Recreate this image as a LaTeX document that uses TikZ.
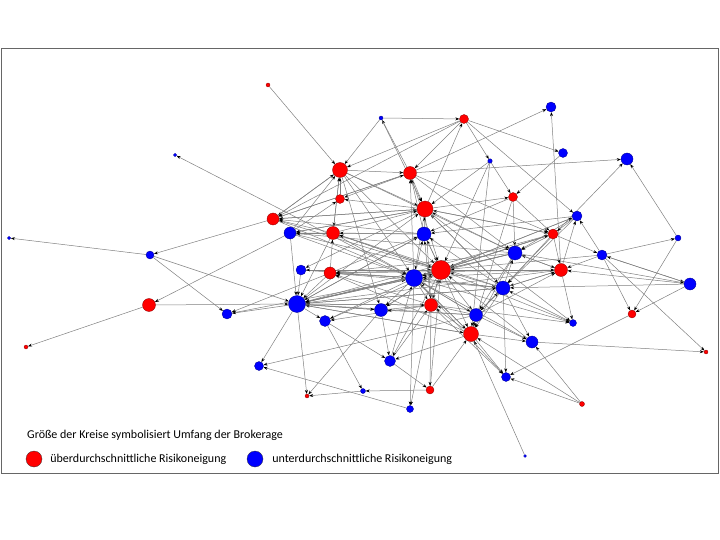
\documentclass[tikz,border=0pt]{standalone}
\usepackage{fontspec}
\setmainfont{Carlito}
\usetikzlibrary{arrows.meta,positioning}
\pgfdeclarelayer{edges}
\pgfsetlayers{edges,main}
\tikzset{
  rnode/.style={circle,inner sep=0pt,minimum size=#1,fill=red,draw=red!55!black,line width=0.3pt},
  bnode/.style={circle,inner sep=0pt,minimum size=#1,fill=blue,draw=blue!55!black,line width=0.3pt},
  link/.style={draw=black!50,line width=0.5pt,-{Stealth[length=4pt,width=3pt,color=black]}},
  legtext/.style={font=\fontsize{12}{14}\selectfont,inner sep=0pt}
}
\begin{document}
\begin{tikzpicture}[x=1pt,y=-1pt]
\useasboundingbox (0,0) rectangle (720,540);
\draw [gray!80!black,line width=0.8pt] (1,48) rectangle (718,473);
% risk-seeking actors
\node [rnode=4pt] (ra) at (268,85) {};
\node [rnode=4pt] (rb) at (26,347) {};
\node [rnode=13pt] (rc) at (149,305) {};
\node [rnode=15pt] (rd) at (340,170) {};
\node [rnode=9pt] (re) at (340,199) {};
\node [rnode=12pt] (rf) at (273,219) {};
\node [rnode=13pt] (rg) at (333,233) {};
\node [rnode=9pt] (rh) at (464,119) {};
\node [rnode=13pt] (ri) at (410,173) {};
\node [rnode=16pt] (rj) at (425,209) {};
\node [rnode=9pt] (rk) at (513,197) {};
\node [rnode=10pt] (rl) at (553,234) {};
\node [rnode=19pt] (rm) at (441,270) {};
\node [rnode=12pt] (rn) at (330,273) {};
\node [rnode=13pt] (ro) at (561,270) {};
\node [rnode=13pt] (rp) at (431,305) {};
\node [rnode=15pt] (rq) at (471,334) {};
\node [rnode=8pt] (rr) at (632,314) {};
\node [rnode=4pt] (rs) at (706,352) {};
\node [rnode=8pt] (rt) at (430,390) {};
\node [rnode=5pt] (ru) at (582,404) {};
\node [rnode=4pt] (rv) at (307,396) {};
% risk-averse actors
\node [bnode=3.5pt] (ba) at (175,155) {};
\node [bnode=3.5pt] (bb) at (9,238) {};
\node [bnode=8pt] (bc) at (150,255) {};
\node [bnode=4pt] (bd) at (381,118) {};
\node [bnode=10pt] (be) at (551,107) {};
\node [bnode=9pt] (bf) at (563,153) {};
\node [bnode=12pt] (bg) at (627,159) {};
\node [bnode=4.5pt] (bh) at (490,161) {};
\node [bnode=12pt] (bi) at (290,233) {};
\node [bnode=14pt] (bj) at (424,234) {};
\node [bnode=10pt] (bk) at (577,216) {};
\node [bnode=6pt] (bl) at (678,238) {};
\node [bnode=14pt] (bm) at (515,253) {};
\node [bnode=10pt] (bn) at (602,255) {};
\node [bnode=10pt] (bo) at (301,270) {};
\node [bnode=17pt] (bp) at (414,278) {};
\node [bnode=12pt] (bq) at (690,284) {};
\node [bnode=14pt] (br) at (503,288) {};
\node [bnode=17pt] (bs) at (297,304) {};
\node [bnode=10pt] (bt) at (227,314) {};
\node [bnode=13pt] (bu) at (381,310) {};
\node [bnode=11pt] (bv) at (325,321) {};
\node [bnode=13pt] (bw) at (476,315) {};
\node [bnode=7pt] (bx) at (573,323) {};
\node [bnode=12pt] (by) at (532,342) {};
\node [bnode=11pt] (bz) at (390,361) {};
\node [bnode=9pt] (b1) at (259,366) {};
\node [bnode=9pt] (b2) at (506,377) {};
\node [bnode=5pt] (b3) at (363,391) {};
\node [bnode=7pt] (b4) at (410,409) {};
\node [bnode=3pt] (b5) at (525,456) {};
% legend
\node [legtext,anchor=west] (title) at (27,435) {Größe der Kreise symbolisiert Umfang der Brokerage};
\node [rnode=16pt,draw=black!80] (kred) at (34,459) {};
\node [legtext,right=8pt of kred] (tred) {überdurchschnittliche Risikoneigung};
\node [bnode=16pt,draw=black!80] (kblue) at (255,459) {};
\node [legtext,right=9pt of kblue] (tblue) {unterdurchschnittliche Risikoneigung};
\begin{pgfonlayer}{edges}
% outer ring
\draw [link] (ra) -- (rd);
\draw [link] (bp) -- (ba);
\draw [link] (bc) -- (bb);
\draw [link] (rf) -- (bc);
\draw [link] (bc) -- (bs);
\draw [link] (bc) -- (bt);
\draw [link] (bi) -- (rc);
\draw [link] (rc) -- (bs);
\draw [link] (rc) -- (rb);
\draw [link] (bd) -- (rh);
\draw [link] (bd) -- (rd);
\draw [link] (ri) -- (bd);
\draw [link] (bd) -- (rj);
\draw [link] (rh) -- (rd);
\draw [link] (rh) -- (rf);
\draw [link] (rh) -- (ri);
\draw [link] (rj) -- (rh);
\draw [link] (rh) -- (bh);
\draw [link] (rh) -- (bk);
\draw [link] (rh) -- (bf);
\draw [link] (ri) -- (be);
\draw [link] (ro) -- (be);
\draw [link] (ri) -- (bg);
\draw [link] (bl) -- (bg);
\draw [link] (bw) -- (bg);
\draw [link] (bf) -- (rk);
\draw [link] (bn) -- (bl);
\draw [link] (bn) -- (bq);
\draw [link] (bn) -- (rr);
\draw [link] (bl) -- (rr);
\draw [link] (bq) -- (rr);
\draw [link] (bq) -- (ro);
\draw [link] (bm) -- (bq);
\draw [link] (bq) -- (br);
\draw [link] (bn) -- (rs);
\draw [link] (by) -- (rs);
\draw [link] (ru) -- (b2);
\draw [link] (ru) -- (by);
\draw [link] (ru) -- (rq);
\draw [link] (rr) -- (b2);
\draw [link] (b5) -- (rq);
\draw [link] (bs) -- (b1);
\draw [link] (bw) -- (b1);
\draw [link] (b4) -- (b1);
\draw [link] (bs) -- (rv);
\draw [link] (b3) -- (rv);
\draw [link] (bu) -- (rv);
\draw [link] (bv) -- (b3);
\draw [link] (rt) -- (b3);
\draw [link] (rp) -- (b4);
\draw [link] (bp) -- (b4);
\draw [link] (bh) -- (rk);
\draw [link] (bh) -- (rj);
\draw [link] (bh) -- (rq);
\draw [link] (bh) -- (rm);
\draw [link] (rj) -- (rk);
\draw [link] (rk) -- (rl);
\draw [link] (rk) -- (bm);
\draw [link] (rk) -- (rq);
\draw [link] (rk) -- (bj);
% core: into rm
\draw [link] (bs) -- (rm);
\draw [link] (rn) -- (rm);
\draw [link] (bo) -- (rm);
\draw [link] (bi) -- (rm);
\draw [link] (rg) -- (rm);
\draw [link] (rf) -- (rm);
\draw [link] (rd) -- (rm);
\draw [link] (ri) -- (rm);
\draw [link] (bj) -- (rm);
\draw [link] (bm) -- (rm);
\draw [link] (br) -- (rm);
\draw [link] (ro) -- (rm);
\draw [link] (rl) -- (rm);
\draw [link] (bk) -- (rm);
\draw [link] (rp) -- (rm);
\draw [link] (bu) -- (rm);
\draw [link] (bv) -- (rm);
\draw [link] (by) -- (rm);
\draw [link] (rt) -- (rm);
\draw [link] (bn) -- (rm);
% into bp
\draw [link] (bs) -- (bp);
\draw [link] (rn) -- (bp);
\draw [link] (bo) -- (bp);
\draw [link] (bi) -- (bp);
\draw [link] (rg) -- (bp);
\draw [link] (rd) -- (bp);
\draw [link] (rj) -- (bp);
\draw [link] (rm) -- (bp);
\draw [link] (br) -- (bp);
\draw [link] (bm) -- (bp);
\draw [link] (ro) -- (bp);
\draw [link] (rl) -- (bp);
\draw [link] (rq) -- (bp);
\draw [link] (bw) -- (bp);
\draw [link] (bz) -- (bp);
\draw [link] (bt) -- (bp);
\draw [link] (rf) -- (bp);
% into rj and bj
\draw [link] (ri) -- (rj);
\draw [link] (rd) -- (rj);
\draw [link] (bj) -- (rj);
\draw [link] (rf) -- (rj);
\draw [link] (rg) -- (rj);
\draw [link] (bi) -- (rj);
\draw [link] (bm) -- (rj);
\draw [link] (br) -- (rj);
\draw [link] (rl) -- (rj);
\draw [link] (bs) -- (rj);
\draw [link] (rm) -- (bj);
\draw [link] (bp) -- (bj);
\draw [link] (bs) -- (bj);
\draw [link] (rn) -- (bj);
\draw [link] (br) -- (bj);
\draw [link] (bk) -- (bj);
\draw [link] (rp) -- (bj);
% into the left cluster
\draw [link] (bp) -- (bs);
\draw [link] (rm) -- (bs);
\draw [link] (rn) -- (bs);
\draw [link] (bo) -- (bs);
\draw [link] (bi) -- (bs);
\draw [link] (rg) -- (bs);
\draw [link] (bj) -- (bs);
\draw [link] (br) -- (bs);
\draw [link] (bm) -- (bs);
\draw [link] (ro) -- (bs);
\draw [link] (bu) -- (bs);
\draw [link] (rp) -- (bs);
\draw [link] (bw) -- (bs);
\draw [link] (rq) -- (bs);
\draw [link] (rl) -- (bs);
\draw [link] (bp) -- (rn);
\draw [link] (br) -- (rn);
\draw [link] (bm) -- (rn);
\draw [link] (rp) -- (rn);
\draw [link] (ro) -- (rn);
\draw [link] (rq) -- (rn);
\draw [link] (rm) -- (bo);
\draw [link] (rj) -- (bo);
\draw [link] (rj) -- (bi);
\draw [link] (rg) -- (bi);
\draw [link] (bj) -- (bi);
\draw [link] (bm) -- (bi);
\draw [link] (rm) -- (rg);
\draw [link] (bj) -- (rg);
\draw [link] (rn) -- (rg);
\draw [link] (rd) -- (rg);
\draw [link] (br) -- (rg);
\draw [link] (rd) -- (rf);
\draw [link] (rg) -- (rf);
\draw [link] (rj) -- (rf);
\draw [link] (bj) -- (rf);
\draw [link] (ri) -- (rf);
\draw [link] (re) -- (rd);
\draw [link] (rg) -- (rd);
\draw [link] (bi) -- (rd);
\draw [link] (rf) -- (rd);
\draw [link] (rd) -- (ri);
\draw [link] (rd) -- (bu);
\draw [link] (rd) -- (bm);
\draw [link] (ri) -- (re);
\draw [link] (rj) -- (re);
\draw [link] (bi) -- (re);
\draw [link] (bp) -- (ri);
\draw [link] (bj) -- (ri);
\draw [link] (rf) -- (ri);
% right cluster
\draw [link] (bp) -- (br);
\draw [link] (rj) -- (br);
\draw [link] (bs) -- (br);
\draw [link] (ro) -- (br);
\draw [link] (bw) -- (br);
\draw [link] (bk) -- (br);
\draw [link] (rl) -- (br);
\draw [link] (bx) -- (br);
\draw [link] (ri) -- (bm);
\draw [link] (rl) -- (bm);
\draw [link] (ro) -- (bm);
\draw [link] (br) -- (bm);
\draw [link] (bk) -- (bm);
\draw [link] (rm) -- (ro);
\draw [link] (br) -- (ro);
\draw [link] (bm) -- (ro);
\draw [link] (bw) -- (ro);
\draw [link] (rl) -- (ro);
\draw [link] (bn) -- (ro);
\draw [link] (rm) -- (rl);
\draw [link] (ri) -- (rl);
\draw [link] (rj) -- (rl);
\draw [link] (bk) -- (rl);
\draw [link] (rm) -- (bk);
\draw [link] (ro) -- (bk);
\draw [link] (bn) -- (bk);
\draw [link] (rl) -- (bn);
\draw [link] (bq) -- (bn);
% lower cluster
\draw [link] (rm) -- (rp);
\draw [link] (bp) -- (rp);
\draw [link] (bw) -- (rp);
\draw [link] (rq) -- (rp);
\draw [link] (bs) -- (rp);
\draw [link] (bu) -- (rp);
\draw [link] (rj) -- (rp);
\draw [link] (bz) -- (rp);
\draw [link] (rm) -- (bw);
\draw [link] (bp) -- (bw);
\draw [link] (br) -- (bw);
\draw [link] (rq) -- (bw);
\draw [link] (bm) -- (bw);
\draw [link] (rm) -- (rq);
\draw [link] (bp) -- (rq);
\draw [link] (br) -- (rq);
\draw [link] (bm) -- (rq);
\draw [link] (rt) -- (rq);
\draw [link] (bs) -- (rq);
\draw [link] (rm) -- (bu);
\draw [link] (bp) -- (bu);
\draw [link] (bs) -- (bu);
\draw [link] (bw) -- (bu);
\draw [link] (bs) -- (bv);
\draw [link] (rp) -- (bv);
\draw [link] (bp) -- (bv);
\draw [link] (bs) -- (bt);
\draw [link] (rn) -- (bt);
\draw [link] (bz) -- (rt);
\draw [link] (rp) -- (rt);
\draw [link] (bv) -- (bz);
\draw [link] (bu) -- (bz);
\draw [link] (rm) -- (bz);
\draw [link] (rq) -- (bz);
\draw [link] (rm) -- (bx);
\draw [link] (bp) -- (bx);
\draw [link] (rp) -- (bx);
\draw [link] (rj) -- (bx);
\draw [link] (ro) -- (bx);
\draw [link] (rq) -- (by);
\draw [link] (bw) -- (by);
\draw [link] (bp) -- (by);
\draw [link] (br) -- (by);
\draw [link] (rq) -- (b2);
\draw [link] (rp) -- (b2);
\draw [link] (bp) -- (b2);
\draw [link] (br) -- (b2);
\end{pgfonlayer}
\end{tikzpicture}
\end{document}
